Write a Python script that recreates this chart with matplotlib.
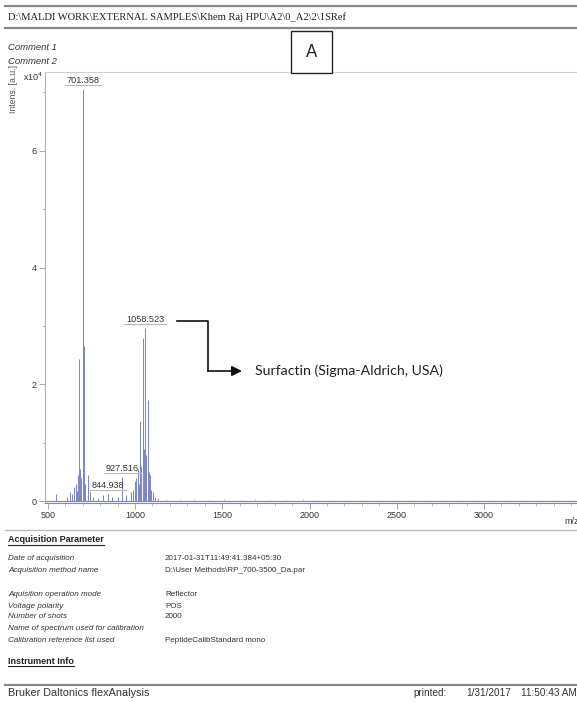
import matplotlib
matplotlib.use("Agg")
import matplotlib.pyplot as plt
import matplotlib.ticker as ticker
from matplotlib.lines import Line2D
from matplotlib.patches import Rectangle

# spectrum sticks (m/z, intensity in a.u.)
peak_mz = [545, 612, 628, 640, 652, 659, 665, 673, 679.4, 687, 693, 701.358,
           707.4, 715, 729, 743, 760, 790, 815, 844.938, 870, 900, 927.516,
           950, 975, 990, 1002, 1008, 1016.5, 1022, 1030.5, 1036, 1044.5,
           1050, 1058.523, 1064, 1072.5, 1078, 1086.5, 1094, 1100.5, 1114, 1130]
peak_int = [1200, 800, 1500, 1200, 2500, 3000, 1800, 4500, 24400, 5500, 4000, 70600,
            26600, 3000, 4500, 1500, 800, 600, 1000, 1200, 700, 800, 4100,
            1000, 1500, 2000, 3500, 4000, 5500, 3000, 13700, 6000, 27900,
            9000, 29600, 8000, 17400, 5000, 4500, 2000, 1500, 800, 500]

# small baseline bumps across the upper mass range
noise_mz = [1180, 1260, 1340, 1420, 1510, 1600, 1690, 1780, 1870, 1960, 2050,
            2140, 2230, 2320, 2410, 2500, 2590, 2680, 2770, 2860, 2950, 3040,
            3130, 3220, 3310, 3400, 3490]
noise_int = [400, 300, 350, 250, 300, 250, 300, 200, 250, 300, 200,
             250, 200, 250, 200, 250, 200, 200, 250, 200, 200, 250,
             200, 200, 250, 200, 200]

labelled = [701.358, 1058.523, 927.516, 844.938]
label_int = [70600, 29600, 4100, 1200]

x_ticks = [500, 1000, 1500, 2000, 2500, 3000]
y_ticks = [0, 20000, 40000, 60000]

acq_keys = ["Date of acquisition", "Acquisition method name", "",
            "Aquisition operation mode", "Voltage polarity", "Number of shots",
            "Name of spectrum used for calibration", "Calibration reference list used"]
acq_vals = ["2017-01-31T11:49:41.384+05:30", "D:\\User Methods\\RP_700-3500_Da.par", "",
            "Reflector", "POS", "2000", "", "PeptideCalibStandard mono"]

W, H = 577, 702
SPEC = "#8088c0"
SANS = "Liberation Sans"


def fx(px):
    return px / W


def fy(py):
    return 1 - py / H


fig = plt.figure(figsize=(W / 100, H / 100), dpi=100)
fig.patch.set_facecolor("white")

# header
for yy in (6, 28):
    fig.add_artist(Line2D([fx(5), 1], [fy(yy), fy(yy)], color="#8a8a8a", lw=1.6))
fig.text(fx(8), fy(17), "D:\\MALDI WORK\\EXTERNAL SAMPLES\\Khem Raj HPU\\A2\\0_A2\\2\\1SRef",
         family="Liberation Serif", fontsize=7.6, va="center", color="#222")
fig.text(fx(8), fy(48), "Comment 1", family=SANS, style="italic", fontsize=6.8,
         va="center", color="#333")
fig.text(fx(8), fy(62), "Comment 2", family=SANS, style="italic", fontsize=6.8,
         va="center", color="#333")

# panel letter
fig.add_artist(Rectangle((fx(291), fy(73)), fx(41), 42 / H, transform=fig.transFigure,
                         facecolor="white", edgecolor="#222", lw=1.0, zorder=5))
fig.text(fx(311.5), fy(52), "A", family="Lato", fontsize=12, ha="center", va="center",
         color="#222", zorder=6)

# spectrum axes
x_left, x_right, px_per_da = 45, 610, 0.1745
ax = fig.add_axes([fx(x_left), fy(503), fx(x_right - x_left), (503 - 72) / H])
ax.set_xlim(484, 484 + (x_right - x_left) / px_per_da)
ax.set_ylim(-300, 73500)
ax.vlines(peak_mz, 0, peak_int, color=SPEC, lw=0.75)
ax.vlines(noise_mz, 0, noise_int, color=SPEC, lw=0.5, alpha=0.7)
ax.axhline(0, color=SPEC, lw=0.9)

ax.spines["right"].set_visible(False)
ax.spines["top"].set_color("#d0d0d0")
ax.spines["left"].set_color("#b0b0b0")
ax.spines["bottom"].set_color(SPEC)
for s in ax.spines.values():
    s.set_linewidth(0.8)

ax.set_xticks(x_ticks)
ax.xaxis.set_minor_locator(ticker.MultipleLocator(100))
ax.set_yticks(y_ticks)
ax.yaxis.set_minor_locator(ticker.MultipleLocator(10000))
ax.yaxis.set_major_formatter(ticker.FuncFormatter(lambda v, p: f"{v / 1e4:.0f}"))
ax.tick_params(axis="both", which="major", length=4, width=0.6, color="#999",
               labelsize=6.5, labelcolor="#333", pad=2)
ax.tick_params(axis="both", which="minor", length=2.5, width=0.5, color="#aaa")
for lab in ax.get_xticklabels() + ax.get_yticklabels():
    lab.set_family(SANS)

fig.text(fx(564), fy(521), "m/z", family=SANS, fontsize=6.5, va="center", color="#333")
fig.text(fx(23), fy(77), r"x10$^4$", family=SANS, fontsize=6.5, va="center", color="#333")
fig.text(fx(13), fy(89), "Intens. [a.u.]", family=SANS, fontsize=6.3, rotation=90,
         ha="center", va="center", color="#555")

# peak labels
peak_texts = []
for mz, h in zip(labelled, label_int):
    t = ax.annotate(f"{mz:.3f}", (mz, h), xytext=(0, 3), textcoords="offset points",
                    ha="center", va="bottom", family=SANS, fontsize=6.6, color="#333")
    peak_texts.append(t)

# surfactin pointer
ax.annotate("", xy=(fx(242), fy(371)), xycoords="figure fraction",
            xytext=(fx(208), fy(371)), textcoords="figure fraction",
            arrowprops=dict(arrowstyle="-|>,head_length=0.6,head_width=0.3",
                            color="#111", lw=1.2, shrinkA=0, shrinkB=0))
fig.add_artist(Line2D([fx(177), fx(208), fx(208)], [fy(321), fy(321), fy(371)],
                      color="#111", lw=1.2))
fig.text(fx(255), fy(371), "Surfactin (Sigma-Aldrich, USA)", family="Lato",
         fontsize=10.2, va="center", color="#222")

# acquisition block
fig.add_artist(Line2D([fx(5), 1], [fy(530), fy(530)], color="#bdbdbd", lw=1.0))
head1 = fig.text(fx(8), fy(540), "Acquisition Parameter", family=SANS, weight="bold",
                 fontsize=6.5, va="center", color="#222")
row_y = [559, 571, 583, 594, 606, 617, 629, 641]
for k, v, yy in zip(acq_keys, acq_vals, row_y):
    fig.text(fx(8), fy(yy), k, family=SANS, style="italic", fontsize=5.8, va="center",
             color="#333")
    fig.text(fx(165), fy(yy), v, family=SANS, fontsize=5.8, va="center", color="#333")
head2 = fig.text(fx(8), fy(661), "Instrument Info", family=SANS, weight="bold",
                 fontsize=6.5, va="center", color="#222")

# footer
fig.add_artist(Line2D([fx(5), 1], [fy(685), fy(685)], color="#8a8a8a", lw=1.6))
fig.text(fx(8), fy(693), "Bruker Daltonics flexAnalysis", family=SANS, fontsize=7.8,
         va="center", color="#333")
fig.text(fx(413), fy(693), "printed:", family=SANS, fontsize=7.2, va="center", color="#333")
fig.text(fx(466), fy(693), "1/31/2017", family=SANS, fontsize=7.2, va="center", color="#333")
fig.text(fx(521), fy(693), "11:50:43 AM", family=SANS, fontsize=7.2, va="center", color="#333")

# underlines need the rendered text extents
fig.canvas.draw()
inv = fig.transFigure.inverted()
for t in (head1, head2):
    bb = t.get_window_extent().transformed(inv)
    fig.add_artist(Line2D([bb.x0, bb.x1], [bb.y0 - 0.001, bb.y0 - 0.001], color="#222", lw=0.8))
for t in peak_texts:
    bb = t.get_window_extent().transformed(inv)
    fig.add_artist(Line2D([bb.x0 - 0.003, bb.x1 + 0.003], [bb.y0, bb.y0],
                          color="#b8b8b8", lw=0.8))

fig.savefig("out.png", dpi=100, facecolor="white")
